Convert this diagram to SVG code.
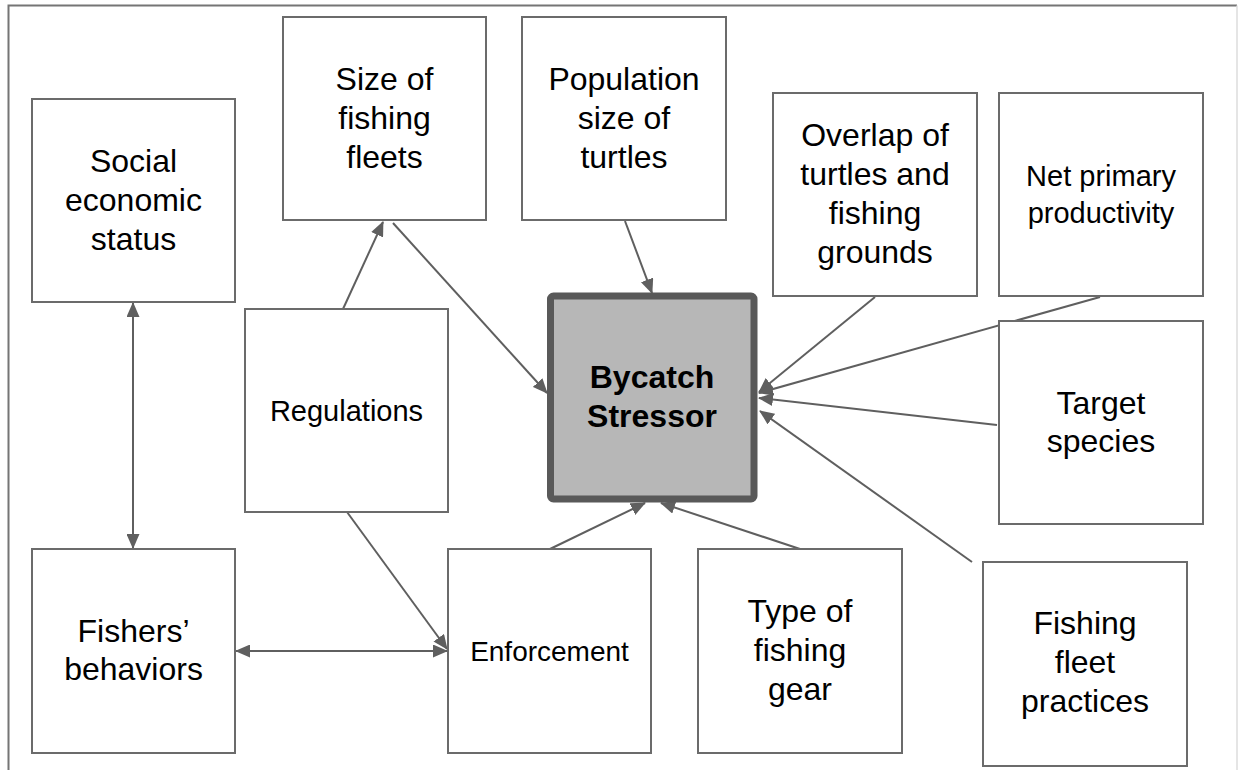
<svg xmlns="http://www.w3.org/2000/svg" width="1238" height="770" viewBox="0 0 1238 770">
<defs>
<style>
.box{fill:#ffffff;stroke:#6b6b6b;stroke-width:2}
.t{font-family:"Liberation Sans",Arial,sans-serif;font-size:32px;fill:#000;text-anchor:middle}
.s{font-size:29px}
.b{font-weight:bold}
.c{stroke:#5f5f5f;stroke-width:2;fill:none}
</style>
<marker id="ah" viewBox="0 0 15 13" refX="14" refY="6.5" markerWidth="15" markerHeight="13" markerUnits="userSpaceOnUse" orient="auto-start-reverse">
<path d="M0,0 L15,6.5 L0,13 z" fill="#5f5f5f"/>
</marker>
</defs>
<rect width="1238" height="770" fill="#ffffff"/>
<path d="M8.5,770 V5.5 H1237" fill="none" stroke="#757575" stroke-width="2"/>
<path d="M1237,5.5 V770" fill="none" stroke="#dddddd" stroke-width="1.5"/>

<g id="connectors">
<line class="c" x1="343" y1="309" x2="383" y2="222" marker-end="url(#ah)"/>
<line class="c" x1="393" y1="223" x2="547" y2="393" marker-end="url(#ah)"/>
<line class="c" x1="625" y1="221" x2="652" y2="293" marker-end="url(#ah)"/>
<line class="c" x1="875" y1="297" x2="759" y2="392" marker-end="url(#ah)"/>
<line class="c" x1="1100" y1="297" x2="759" y2="393" marker-end="url(#ah)"/>
<line class="c" x1="997" y1="425" x2="759" y2="398" marker-end="url(#ah)"/>
<line class="c" x1="972" y1="562" x2="760" y2="411" marker-end="url(#ah)"/>
<line class="c" x1="800" y1="549" x2="661" y2="503" marker-end="url(#ah)"/>
<line class="c" x1="550" y1="549" x2="645" y2="503" marker-end="url(#ah)"/>
<line class="c" x1="347" y1="512" x2="447" y2="649" marker-end="url(#ah)"/>
<line class="c" x1="236" y1="651" x2="447" y2="651" marker-start="url(#ah)" marker-end="url(#ah)"/>
<line class="c" x1="133" y1="303" x2="133" y2="548" marker-start="url(#ah)" marker-end="url(#ah)"/>
</g>

<g id="social">
<rect class="box" x="32" y="99" width="203" height="203"/>
<text class="t" x="133.5" y="172">Social</text>
<text class="t" x="133.5" y="211">economic</text>
<text class="t" x="133.5" y="250">status</text>
</g>
<g id="size-fleets">
<rect class="box" x="283" y="17" width="203" height="203"/>
<text class="t" x="384.5" y="90">Size of</text>
<text class="t" x="384.5" y="129">fishing</text>
<text class="t" x="384.5" y="168">fleets</text>
</g>
<g id="population">
<rect class="box" x="522" y="17" width="204" height="203"/>
<text class="t" x="624" y="90">Population</text>
<text class="t" x="624" y="129">size of</text>
<text class="t" x="624" y="168">turtles</text>
</g>
<g id="overlap">
<rect class="box" x="773" y="93" width="204" height="203"/>
<text class="t" x="875" y="146">Overlap of</text>
<text class="t" x="875" y="185">turtles and</text>
<text class="t" x="875" y="224">fishing</text>
<text class="t" x="875" y="263">grounds</text>
</g>
<g id="npp">
<rect class="box" x="999" y="93" width="204" height="203"/>
<text class="t s" x="1101" y="186">Net primary</text>
<text class="t s" x="1101" y="223">productivity</text>
</g>
<g id="regulations">
<rect class="box" x="245" y="309" width="203" height="203"/>
<text class="t s" x="346.5" y="421">Regulations</text>
</g>
<g id="bycatch">
<rect x="550.5" y="296" width="203.5" height="203" rx="3" fill="#b7b7b7" stroke="#595959" stroke-width="7"/>
<text class="t b" x="652" y="388">Bycatch</text>
<text class="t b" x="652" y="427">Stressor</text>
</g>
<g id="target">
<rect class="box" x="999" y="321" width="204" height="203"/>
<text class="t" x="1101" y="414">Target</text>
<text class="t" x="1101" y="452">species</text>
</g>
<g id="fishers">
<rect class="box" x="32" y="549" width="203" height="204"/>
<text class="t" x="133.5" y="642">Fishers’</text>
<text class="t" x="133.5" y="680">behaviors</text>
</g>
<g id="enforcement">
<rect class="box" x="448" y="549" width="203" height="204"/>
<text class="t" x="549.5" y="661" style="font-size:28px">Enforcement</text>
</g>
<g id="gear">
<rect class="box" x="698" y="549" width="204" height="204"/>
<text class="t" x="800" y="622">Type of</text>
<text class="t" x="800" y="661">fishing</text>
<text class="t" x="800" y="700">gear</text>
</g>
<g id="practices">
<rect class="box" x="983" y="562" width="204" height="204"/>
<text class="t" x="1085" y="634">Fishing</text>
<text class="t" x="1085" y="673">fleet</text>
<text class="t" x="1085" y="712">practices</text>
</g>
</svg>
